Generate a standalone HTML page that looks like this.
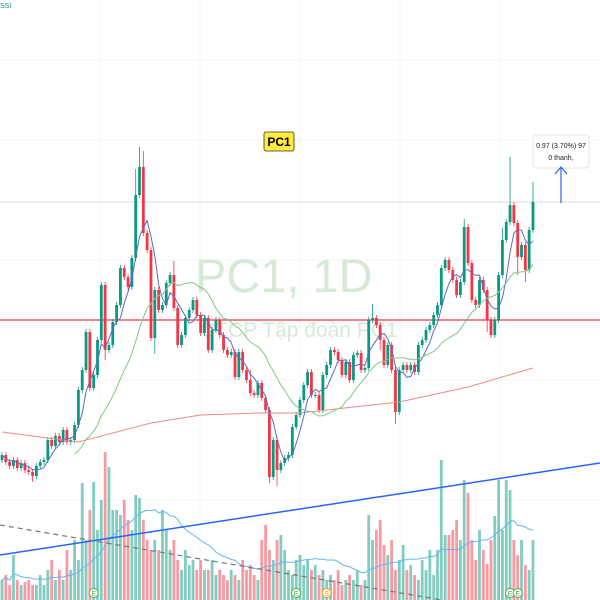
<!DOCTYPE html>
<html><head><meta charset="utf-8"><style>
html,body{margin:0;padding:0;background:#fff;}
#wrap{position:relative;width:600px;height:600px;overflow:hidden;font-family:"Liberation Sans","Noto Sans CJK SC",sans-serif;}
svg{position:absolute;left:0;top:0;}
</style></head><body>
<div id="wrap">
<svg id="chart" width="600" height="600">
<g id="grid"></g>
<text x="195" y="292" font-size="47" fill="#d4ead6">PC1, 1D</text>
<text x="200" y="337" font-size="21" fill="#d4ead6">CTCP Tập đoàn PC1</text>
<g id="vol"></g>
<g id="lines"></g>
<g id="candles"></g>
<g id="ma"></g>
<g id="badges"></g>
<text x="0" y="8" font-size="7" fill="#089981">SSI</text>
<g>
<rect x="264" y="132" width="30" height="19" rx="2" fill="#ffeb3b" stroke="#333" stroke-width="0.8"></rect>
<text x="279" y="146" font-size="12" font-weight="bold" text-anchor="middle" fill="#000">PC1</text>
</g>
<g>
<rect x="533" y="135" width="56" height="33" rx="3" fill="#fff" stroke="#e6e6e6"></rect>
<text x="561" y="148" font-size="7" text-anchor="middle" fill="#222">0.97 (3.70%) 97</text>
<text x="561" y="160" font-size="7" text-anchor="middle" fill="#222">0 thanh,</text>
</g>
<g stroke="#2962ff" stroke-width="1.2" fill="none">
<line x1="561" y1="203" x2="561" y2="167"></line>
<polyline points="555,174 561,167 567,174"></polyline>
</g>
</svg>
</div>
<script>
const closes=[8.25,7.9,7.7,8.0,7.6,7.85,7.5,7.4,7.2,7.7,7.9,8.0,9.0,8.7,9.2,8.9,9.5,8.9,9.0,9.75,11.5,12.5,14.4,11.6,12.25,14.0,16.75,13.5,13.75,14.9,15.75,17.6,17.15,16.65,18.1,21.25,22.65,19.35,18.5,14.1,16.5,15.5,15.75,16.85,17.25,15.6,13.75,14.25,15.1,15.5,16.0,15.25,14.35,15.1,13.5,14.5,15.0,14.25,13.5,13.25,13.4,12.15,13.4,12.5,12.0,11.35,11.25,11.85,11.1,10.5,7.15,9.0,7.5,7.85,8.1,8.25,9.65,10.25,11.0,11.75,12.4,11.25,11.25,10.5,12.25,12.75,13.5,13.4,13.0,12.25,12.9,12.0,13.25,13.35,12.5,12.6,15.0,15.1,14.75,14.0,12.75,13.75,12.5,10.4,12.5,12.75,12.5,12.75,12.4,13.75,14.0,14.5,14.75,15.25,15.75,17.6,18.0,17.5,17.0,16.25,16.9,19.65,17.85,16.0,15.75,17.0,16.5,15.0,14.25,15.0,17.25,19.0,19.9,20.75,19.85,18.15,18.75,17.5,19.5,20.9];
const firstOpen=8.0;
const wickHigh={35:1.3,36:1.0,37:0.8,133:2.4,139:1.0,131:0.6,121:0.4,97:0.7,103:0.2,45:0.7,65:0.5};
const wickLow={103:0.6,70:0.3,72:0.8,40:0.8,27:0.5,8:0.3,99:0.5,135:0.9,127:0.6,137:0.6};
const volumes=[2,2.5,1.5,4.5,2,1.5,1.8,2,1.5,1.5,2.5,1.5,3,4,2,3,2,5,3,6,4,11.7,6,9,11.8,7,10,14.8,13.3,9,9,8.5,10,8,7,10.5,10.2,8,6,5,6,5,9,7,5,6,4,3,5,3.5,4,3,4,3,3,4,2.5,3,2.5,2,3,2.5,2,4,3,3.5,2.5,2,6,7.5,5,4,6,6.5,5,3,2.5,4,4.5,3.5,4,3,3.5,2.5,3,2,2.5,2,3,1.5,2,2.5,2,3,1.5,2,8.5,6,7,8,5.5,4.5,6,3,4,5.5,3,3.5,2.5,2,4,3,5,2.5,5,14,6.5,6.5,7,8,6,12,10.7,6,4,7,5,3.6,6,8.4,12,7,12,11,6,4.5,6,3.5,3,6];
const maLongIdx=[0,20,39,52,67,78,104,122,139];
const maLongVal=[9.4,8.9,9.85,10.25,10.35,10.35,10.9,11.65,12.6];
const resistance=15.0, lastPrice=20.9;
const eventIdx=[24,77,133,135], eventKind=["E","E","E","E"], splitIdx=[85];

const NS="http://www.w3.org/2000/svg";
const X=i=>2+i*3.82, Y=p=>620-20*p, VY=v=>600-v*10;
function mk(tag,attrs,parent){const e=document.createElementNS(NS,tag);for(const k in attrs)e.setAttribute(k,attrs[k]);parent.appendChild(e);return e;}
const G=id=>document.getElementById(id);
[100,200,300,400,500].forEach(x=>{const l=mk('line',{x1:x,y1:0,x2:x,y2:600,stroke:'#f4f5f7'},G('grid'));});
[60,140,260,380,500].forEach(y=>{const l=mk('line',{x1:0,y1:y,x2:600,y2:y,stroke:'#f4f5f7'},G('grid'));});
volumes.forEach((v,i)=>{const o=i?closes[i-1]:firstOpen,up=closes[i]>=o;
const r=mk('rect',{x:X(i)-1.4,y:VY(v),width:2.8,height:600-VY(v),fill:up?'rgba(8,153,129,0.5)':'rgba(242,54,69,0.5)'},G('vol'));
});
let vp=[];volumes.forEach((v,i)=>{const s=volumes.slice(Math.max(0,i-19),i+1);vp.push(X(i)+','+VY(s.reduce((a,b)=>a+b,0)/s.length));});
const vm=mk('polyline',{points:vp.join(' '),fill:'none',stroke:'#64b5f6','stroke-width':1},G('vol'));

const ln=G('lines');
const tl=mk('line',{x1:0,y1:555,x2:600,y2:463,stroke:'#2962ff','stroke-width':1.5},ln);
const dl=mk('line',{x1:0,y1:525,x2:460,y2:603,stroke:'#777','stroke-width':1.2,'stroke-dasharray':'5,4'},ln);
const rl=mk('line',{x1:0,y1:Y(resistance),x2:600,y2:Y(resistance),stroke:'#f23645','stroke-width':1.3},ln);
const pl=mk('line',{x1:0,y1:Y(lastPrice),x2:600,y2:Y(lastPrice),stroke:'#d8dde3','stroke-width':1},ln);
const lp=maLongIdx.map((ix,k)=>X(ix)+','+Y(maLongVal[k])).join(' ');
const lm=mk('polyline',{points:lp,fill:'none',stroke:'#f28b82','stroke-width':1},G('ma'));
function ma(n,color,name){let p=[];closes.forEach((c,i)=>{if(i<n-1&&n>5)return;const s=closes.slice(Math.max(0,i-n+1),i+1);p.push(X(i)+','+Y(s.reduce((a,b)=>a+b,0)/s.length));});
const e=mk('polyline',{points:p.join(' '),fill:'none',stroke:color,'stroke-width':1},G('ma'));}
closes.forEach((c,i)=>{const o=i?closes[i-1]:firstOpen,up=c>=o,col=up?'#089981':'#f23645';
const hi=Math.max(o,c)+(wickHigh[i]||0.15),lo=Math.min(o,c)-(wickLow[i]||0.15);
const g=mk('g',{},G('candles'));
mk('line',{x1:X(i),y1:Y(hi),x2:X(i),y2:Y(lo),stroke:col,'stroke-width':0.8},g);
const top=Y(Math.max(o,c)),h=Math.max(1,Y(Math.min(o,c))-top);
mk('rect',{x:X(i)-1.4,y:top,width:2.8,height:h,fill:col},g);});
ma(5,'#5c6bc0','ma-fast');ma(20,'#81c784','ma-medium');
eventIdx.forEach((ix,k)=>{const g=mk('g',{},G('badges'));
mk('circle',{cx:X(ix),cy:593,r:4.5,fill:'#fff',stroke:'#4caf50'},g);
const t=mk('text',{x:X(ix),y:596,'font-size':7,'text-anchor':'middle',fill:'#4caf50'},g);t.textContent=eventKind[k];});
splitIdx.forEach(ix=>{const g=mk('g',{},G('badges'));
mk('circle',{cx:X(ix),cy:593,r:4.5,fill:'#fff',stroke:'#ff9800'},g);
const t=mk('text',{x:X(ix),y:596,'font-size':7,'text-anchor':'middle',fill:'#ff9800'},g);t.textContent='S';});
</script>
</body></html>
